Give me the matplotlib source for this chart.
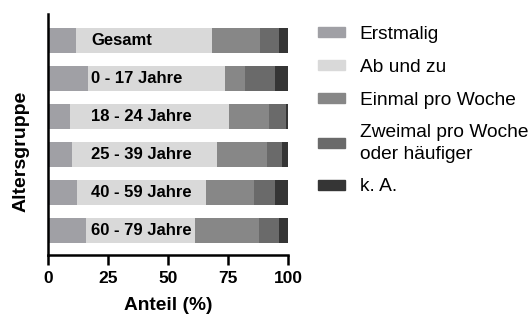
import numpy as np
import matplotlib.pyplot as plt
from matplotlib.patches import Patch

groups = ['Gesamt', '0 - 17 Jahre', '18 - 24 Jahre', '25 - 39 Jahre', '40 - 59 Jahre', '60 - 79 Jahre']
categories = ['Erstmalig', 'Ab und zu', 'Einmal pro Woche', 'Zweimal pro Woche\noder häufiger', 'k. A.']
erstmalig = [11.8, 16.7, 9.3, 10.1, 12.1, 16.0]
ab_und_zu = [56.5, 56.9, 66.1, 60.3, 53.9, 45.1]
einmal = [19.9, 8.3, 16.7, 21.0, 19.8, 26.7]
zweimal = [8.1, 12.8, 7.2, 6.1, 8.7, 8.5]
k_a = [3.7, 5.3, 0.7, 2.5, 5.5, 3.7]
colors = ['#a0a0a5', '#d9d9d9', '#878787', '#6a6a6a', '#353535']

plt.rcParams['font.family'] = ['Liberation Sans', 'DejaVu Sans']

fig = plt.figure(figsize=(5.31, 3.18), dpi=100)
ax = fig.add_axes([0.0904, 0.198, 0.452, 0.758])

ys = np.arange(len(groups))
left = np.zeros(len(groups))
for vals, c in zip([erstmalig, ab_und_zu, einmal, zweimal, k_a], colors):
    ax.barh(ys, vals, left=left, height=0.66, color=c)
    left += np.array(vals)

for y, g in zip(ys, groups):
    ax.text(18, y, g, ha='left', va='center', fontsize=12, fontweight='bold')

ax.set_xlim(0, 100)
ax.set_ylim(5.65, -0.7)
ax.set_yticks([])
ax.set_xticks([0, 25, 50, 75, 100])
ax.tick_params(axis='x', length=7, width=1.8, labelsize=12.5, pad=4.5)
for lbl in ax.get_xticklabels():
    lbl.set_fontweight('bold')
for s in ['top', 'right']:
    ax.spines[s].set_visible(False)
for s in ['left', 'bottom']:
    ax.spines[s].set_linewidth(1.8)
ax.set_xlabel('Anteil (%)', fontsize=13.8, fontweight='bold', labelpad=8)
ax.set_ylabel('Altersgruppe', fontsize=14, fontweight='bold')
ax.yaxis.set_label_coords(-0.076, 0.43)

handles = [Patch(color=c) for c in colors]
leg = fig.legend(handles, categories, loc='upper left', bbox_to_anchor=(0.599, 0.918),
                 frameon=False, fontsize=13.8, labelspacing=0.82, handlelength=1.4,
                 handleheight=0.42, handletextpad=0.77, borderpad=0, borderaxespad=0)
for t in leg.get_texts():
    t.set_linespacing(1.35)

fig.savefig('out.png', dpi=100)
